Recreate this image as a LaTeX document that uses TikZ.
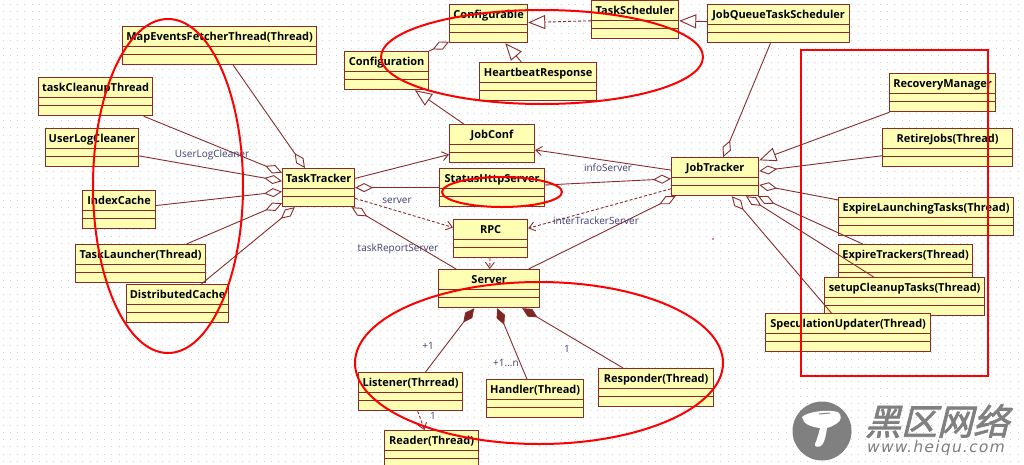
\documentclass[tikz,border=0pt]{standalone}
\usepackage{fontspec}
\setmainfont{Open Sans}
\newfontfamily\cjkfont[FakeSlant=0.25,FakeBold=2]{Noto Sans CJK SC}
\newfontfamily\sitefont[FakeSlant=0.2,LetterSpace=8]{DejaVu Sans}
\usetikzlibrary{arrows.meta}
\definecolor{umlline}{HTML}{8A2A2A}
\definecolor{umlfill}{HTML}{FFFFB4}
\definecolor{umllabel}{HTML}{3C3C70}
\definecolor{gridgray}{HTML}{CFCFCF}
\definecolor{markgray}{HTML}{808080}
\tikzset{
  umlbox/.style={draw=umlline, fill=umlfill, line width=1.2pt, anchor=north west, inner sep=0pt,
    minimum width=#1, minimum height=38pt, text height=14pt, text depth=24pt,
    font=\fontsize{11pt}{11pt}\selectfont\bfseries, text=black,
    path picture={
      \draw[umlline, line width=1.2pt] ([yshift=-20pt]path picture bounding box.north west) -- ([yshift=-20pt]path picture bounding box.north east);
      \draw[umlline, line width=1.2pt] ([yshift=-28pt]path picture bounding box.north west) -- ([yshift=-28pt]path picture bounding box.north east);
    }},
  conn/.style={draw=umlline, line width=0.9pt},
  aggr/.style={conn, {Diamond[open, length=18pt, width=9pt, fill=white]}-},
  comp/.style={conn, {Diamond[length=18pt, width=9pt, fill=umlline!90!black]}-},
  gener/.style={conn, -{Triangle[open, length=17pt, width=14pt, fill=white]}},
  assoc/.style={conn, -{Straight Barb[length=6pt, width=9pt]}},
  depend/.style={assoc, densely dashed},
  lbl/.style={text=umllabel, font=\fontsize{10pt}{10pt}\selectfont, inner sep=0pt},
  redmark/.style={draw=red, line width=2pt}
}
\begin{document}
\begin{tikzpicture}[x=1pt,y=-1pt]
  \clip (0,0) rectangle (1024,464);
  \fill[white] (0,0) rectangle (1024,464);
  %%Dotted_Background
  \foreach \gx in {2.5,9.75,...,1022}
    \foreach \gy in {4,11.25,...,462}
      \fill[gridgray] (\gx,\gy) rectangle +(1,1);
  %%Watermark
  \fill[markgray] (822,431) circle (29.5);
  \fill[white] (802,417) .. controls (807,412) and (826,409) .. (838,412)
    .. controls (842,415) and (842,421) .. (836,424)
    .. controls (833,426) and (830,427) .. (827,428)
    .. controls (826,435) and (825,441) .. (822,445)
    .. controls (819,448) and (814,447) .. (815,444)
    .. controls (817,439) and (819,433) .. (820,428)
    .. controls (811,427) and (803,424) .. (802,417) -- cycle;
  \draw[markgray, line width=1pt] (819,414) -- (830,413);
  \node[text=markgray, font=\fontsize{36pt}{36pt}\cjkfont, inner sep=0pt] (markName) at (937,421) {黑区网络};
  \node[text=markgray, font=\fontsize{15.5pt}{15.5pt}\sitefont, inner sep=0pt] (markSite) at (935,448) {www.heiqu.com};
  %%TaskTracker_Side
  \node[umlbox=194pt] (mapEvents) at (122,26) {MapEventsFetcherThread(Thread)};
  \node[umlbox=114pt] (taskCleanup) at (38,77) {taskCleanupThread};
  \node[umlbox=93pt] (userLog) at (45,128) {UserLogCleaner};
  \node[umlbox=73pt] (indexCache) at (82,190) {IndexCache};
  \node[umlbox=130pt] (taskLauncher) at (75,244) {TaskLauncher(Thread)};
  \node[umlbox=102pt] (distCache) at (126,284) {DistributedCache};
  \node[umlbox=72pt] (taskTracker) at (282,168) {TaskTracker};
  %%Config_Group
  \node[umlbox=78pt] (configurable) at (449,4) {Configurable};
  \node[umlbox=87pt] (taskScheduler) at (591,0) {TaskScheduler};
  \node[umlbox=142pt] (jobQueue) at (707,4) {JobQueueTaskScheduler};
  \node[umlbox=84pt] (configuration) at (344,51) {Configuration};
  \node[umlbox=117pt] (heartbeat) at (479,62) {HeartbeatResponse};
  %%Middle
  \node[umlbox=85pt] (jobConf) at (449,124) {JobConf};
  \node[umlbox=105pt] (statusHttp) at (439,168) {StatusHttpServer};
  \node[umlbox=74pt] (rpc) at (453,219) {RPC};
  \node[umlbox=101pt] (server) at (438,269) {Server};
  %%Server_Threads
  \node[umlbox=104pt] (listener) at (358,372) {Listener(Thrread)};
  \node[umlbox=97pt] (handler) at (486,379) {Handler(Thread)};
  \node[umlbox=115pt] (responder) at (598,368) {Responder(Thread)};
  \node[umlbox=94pt] (reader) at (384,430) {Reader(Thread)};
  %%JobTracker_Side
  \node[umlbox=87pt] (jobTracker) at (671,157) {JobTracker};
  \node[umlbox=106pt] (recovery) at (889,73) {RecoveryManager};
  \node[umlbox=130pt] (retireJobs) at (882,128) {RetireJobs(Thread)};
  \node[umlbox=175pt] (expireLaunch) at (838,197) {ExpireLaunchingTasks(Thread)};
  \node[umlbox=134pt] (expireTrack) at (838,244) {ExpireTrackers(Thread)};
  \node[umlbox=160pt] (setupClean) at (824,277) {setupCleanupTasks(Thread)};
  \node[umlbox=165pt] (specUpdate) at (765,313) {SpeculationUpdater(Thread)};
  %%Connectors_TaskTracker
  \draw[aggr] (taskTracker) -- (mapEvents);
  \draw[aggr] (taskTracker) -- (taskCleanup);
  \draw[aggr] (taskTracker) -- (userLog);
  \draw[aggr] (taskTracker) -- (indexCache);
  \draw[aggr] (taskTracker) -- (taskLauncher);
  \draw[aggr] (taskTracker) -- (distCache);
  \draw[aggr] (taskTracker) -- (statusHttp);
  \draw[aggr] (taskTracker) -- (server);
  \draw[assoc] (taskTracker) -- (jobConf);
  \draw[depend] (taskTracker) -- (rpc);
  %%Connectors_JobTracker
  \draw[aggr] (jobTracker) -- (jobQueue);
  \draw[aggr] (jobTracker) -- (statusHttp);
  \draw[aggr] (jobTracker) -- (server);
  \draw[aggr] (jobTracker) -- (retireJobs);
  \draw[aggr] (jobTracker) -- (expireLaunch);
  \draw[aggr] (jobTracker) -- (expireTrack);
  \draw[aggr] (jobTracker) -- (setupClean);
  \draw[aggr] (jobTracker) -- (specUpdate);
  \draw[gener] (recovery) -- (jobTracker);
  \draw[assoc] (jobTracker) -- (jobConf);
  \draw[depend] (jobTracker) -- (rpc);
  %%Connectors_Config
  \draw[aggr] (configurable) -- (configuration);
  \draw[gener] (heartbeat) -- (configurable);
  \draw[gener, densely dashed] (taskScheduler) -- (configurable);
  \draw[gener] (jobQueue) -- (taskScheduler);
  \draw[gener] (jobConf) -- (configuration);
  %%Connectors_Server
  \draw[depend] (rpc) -- (server);
  \draw[comp] (server) -- (listener);
  \draw[comp] (server) -- (handler);
  \draw[comp] (server) -- (responder);
  \draw[depend] (listener) -- (reader);
  %%Labels
  \node[lbl] (lblUserLog) at (212,155) {UserLogCleaner};
  \node[lbl] (lblInfo) at (608,168) {infoServer};
  \node[lbl] (lblServer) at (397,201) {server};
  \node[lbl] (lblInter) at (596,221) {interTrackerServer};
  \node[lbl] (lblReport) at (398,249) {taskReportServer};
  \node[lbl] (lblListener) at (428,346) {+1};
  \node[lbl] (lblHandler) at (506,363) {+1...n};
  \node[lbl] (lblResponder) at (567,349) {1};
  \node[lbl] (lblReader) at (433,416) {1};
  %%Red_Marks
  \draw[redmark] (168,186) ellipse [x radius=75, y radius=167];
  \draw[redmark] (542,57) ellipse [x radius=161, y radius=47];
  \draw[redmark] (502,192) ellipse [x radius=60, y radius=15];
  \draw[redmark] (539,363) ellipse [x radius=184, y radius=81];
  \draw[redmark] (801,50) rectangle (988,376);
  \fill[red] (713,239) circle (0.8);
\end{tikzpicture}
\end{document}
